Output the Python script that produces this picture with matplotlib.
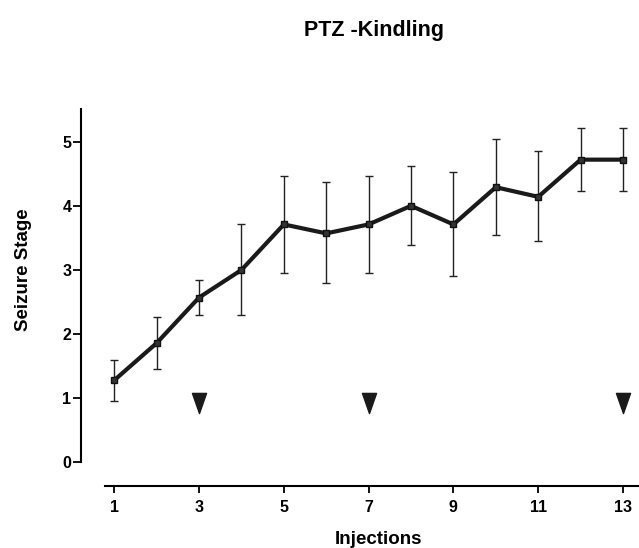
import matplotlib
matplotlib.use('Agg')
import matplotlib.pyplot as plt
from matplotlib.path import Path

# data
injections = [1, 2, 3, 4, 5, 6, 7, 8, 9, 10, 11, 12, 13]
stage_mean = [1.28, 1.86, 2.57, 3.00, 3.71, 3.57, 3.71, 4.00, 3.71, 4.29, 4.14, 4.72, 4.72]
err_upper = [1.60, 2.26, 2.85, 3.71, 4.46, 4.37, 4.46, 4.62, 4.52, 5.04, 4.85, 5.21, 5.21]
err_lower = [0.96, 1.45, 2.29, 2.29, 2.96, 2.79, 2.96, 3.39, 2.91, 3.55, 3.45, 4.23, 4.23]
arrow_x = [3, 7, 13]
arrow_y = [0.93, 0.93, 0.93]
x_ticks = [1, 3, 5, 7, 9, 11, 13]
y_ticks = [0, 1, 2, 3, 4, 5]

plt.rcParams['font.family'] = ['Liberation Sans', 'DejaVu Sans']
plt.rcParams['font.weight'] = 'bold'

fig = plt.figure(figsize=(6.39, 5.48), dpi=100)
ax = fig.add_axes([0.1268, 0.1131, 0.873, 0.688])

yerr = [[m - lo for m, lo in zip(stage_mean, err_lower)],
        [hi - m for m, hi in zip(stage_mean, err_upper)]]
ax.errorbar(injections, stage_mean, yerr=yerr, fmt='none', ecolor='#222222',
            elinewidth=1.0, capsize=2.9, capthick=1.0, zorder=2)
ax.plot(injections, stage_mean, color='#1a1a1a', linewidth=3.0,
        marker='s', markersize=4.5, markerfacecolor='#333333',
        markeredgecolor='#111111', zorder=3)

# narrow downward triangles marking injection days
tri = Path([(-0.7, 1), (0.7, 1), (0, -1), (-0.7, 1)],
           [Path.MOVETO, Path.LINETO, Path.LINETO, Path.CLOSEPOLY])
ax.plot(arrow_x, arrow_y, linestyle='none', marker=tri, markersize=14.5,
        color='#1a1a1a', clip_on=False)

ax.set_xlim(0.215, 13.375)
ax.set_ylim(-0.37, 5.51)
ax.set_xticks(x_ticks)
ax.set_yticks(y_ticks)

for s in ['top', 'right']:
    ax.spines[s].set_visible(False)
ax.spines['left'].set_bounds(0, 5.51)
ax.spines['bottom'].set_bounds(0.78, 13.375)
ax.spines['left'].set_linewidth(1.5)
ax.spines['bottom'].set_linewidth(1.5)
ax.tick_params(axis='x', direction='out', length=5, width=1.3, labelsize=11.5, pad=5)
ax.tick_params(axis='y', direction='out', length=5.5, width=1.3, labelsize=11.5, pad=1.5)
for lab in ax.get_xticklabels() + ax.get_yticklabels():
    lab.set_fontweight('bold')

fig.text(0.585, 0.945, 'PTZ -Kindling', ha='center', va='center',
         fontsize=15.5, fontweight='bold')
fig.text(0.036, 0.507, 'Seizure Stage', ha='center', va='center',
         rotation=90, fontsize=13.5, fontweight='bold')
fig.text(0.592, 0.016, 'Injections', ha='center', va='center',
         fontsize=13.5, fontweight='bold')

fig.savefig('out.png', dpi=100)
